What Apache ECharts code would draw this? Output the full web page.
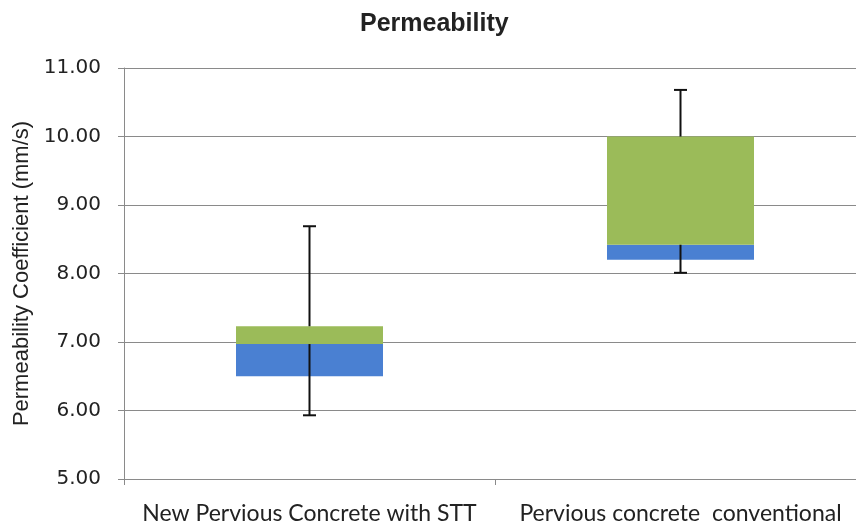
<!DOCTYPE html>
<html>
<head>
<meta charset="utf-8">
<script src="https://cdn.jsdelivr.net/npm/echarts@6/dist/echarts.min.js"></script>
<style>
  html, body { margin: 0; padding: 0; background: #fff; overflow: hidden; }
  /* a bit wider than the window: the plot runs past the right edge, as in the reference */
  #chart { width: 866px; height: 527px; }
</style>
</head>
<body>
<div id="chart"></div>
<script>
// data
const categories = ["New Pervious Concrete with STT", "Pervious concrete  conventional"];
const lowQuart = [6.50, 8.20];   // bottom of blue box
const medians = [6.97, 8.42];    // blue/green boundary
const highQuart = [7.23, 10.00]; // top of green box
const minVals = [5.93, 8.01];    // lower whisker
const maxVals = [8.69, 10.68];   // upper whisker

const blueSeg = medians.map((m, i) => +(m - lowQuart[i]).toFixed(2));
const greenSeg = highQuart.map((q, i) => +(q - medians[i]).toFixed(2));
const whiskerData = categories.map((c, i) => [i, minVals[i], medians[i], highQuart[i], maxVals[i]]);

const chart = echarts.init(document.getElementById("chart"));

const option = {
  animation: false,
  backgroundColor: "#fff",
  title: {
    text: "Permeability",
    left: 355,
    top: 7,
    textStyle: {
      fontFamily: "Liberation Sans",
      fontWeight: "bold",
      fontSize: 25,
      color: "#222"
    }
  },
  grid: {
    left: 124,
    right: 0,
    top: 68,
    bottom: 48
  },
  xAxis: {
    type: "category",
    data: categories,
    axisLine: { lineStyle: { color: "#8a8a8a", width: 1 } },
    axisTick: { show: true, length: 6, lineStyle: { color: "#8a8a8a" } },
    axisLabel: {
      margin: 23,
      interval: 0,
      fontFamily: "Lato",
      fontSize: 23,
      color: "#222"
    }
  },
  yAxis: {
    type: "value",
    min: 5,
    max: 11,
    interval: 1,
    name: "Permeability Coefficient (mm/s)",
    nameLocation: "middle",
    nameRotate: 90,
    nameGap: 89,
    nameTextStyle: {
      fontFamily: "Liberation Sans",
      fontSize: 22,
      color: "#222"
    },
    axisLine: { show: true, lineStyle: { color: "#8a8a8a", width: 1 } },
    axisTick: { show: true, length: 6, lineStyle: { color: "#8a8a8a" } },
    splitLine: { lineStyle: { color: "#8a8a8a", width: 1 } },
    axisLabel: {
      margin: 23,
      fontFamily: "DejaVu Sans",
      fontSize: 20,
      color: "#222",
      formatter: v => v.toFixed(2)
    }
  },
  series: [
    {
      name: "base",
      type: "bar",
      stack: "box",
      barWidth: 147,
      itemStyle: { color: "transparent" },
      data: lowQuart
    },
    {
      name: "lower",
      type: "bar",
      stack: "box",
      itemStyle: { color: "#4a80d2" },
      data: blueSeg
    },
    {
      name: "upper",
      type: "bar",
      stack: "box",
      itemStyle: { color: "#9bbb59" },
      data: greenSeg
    },
    {
      name: "whisker",
      type: "custom",
      z: 10,
      data: whiskerData,
      renderItem: function (params, api) {
        const x = api.coord([api.value(0), 0])[0];
        const yMin = api.coord([0, api.value(1)])[1];
        const yMed = api.coord([0, api.value(2)])[1];
        const yQ3 = api.coord([0, api.value(3)])[1];
        const yMax = api.coord([0, api.value(4)])[1];
        const cap = 6.5;
        const style = { stroke: "#111", lineWidth: 2 };
        return {
          type: "group",
          children: [
            { type: "line", shape: { x1: x, y1: yMax, x2: x, y2: yQ3 }, style: style },
            { type: "line", shape: { x1: x, y1: yMed, x2: x, y2: yMin }, style: style },
            { type: "line", shape: { x1: x - cap, y1: yMax, x2: x + cap, y2: yMax }, style: style },
            { type: "line", shape: { x1: x - cap, y1: yMin, x2: x + cap, y2: yMin }, style: style }
          ]
        };
      }
    }
  ]
};

chart.setOption(option);
</script>
</body>
</html>
